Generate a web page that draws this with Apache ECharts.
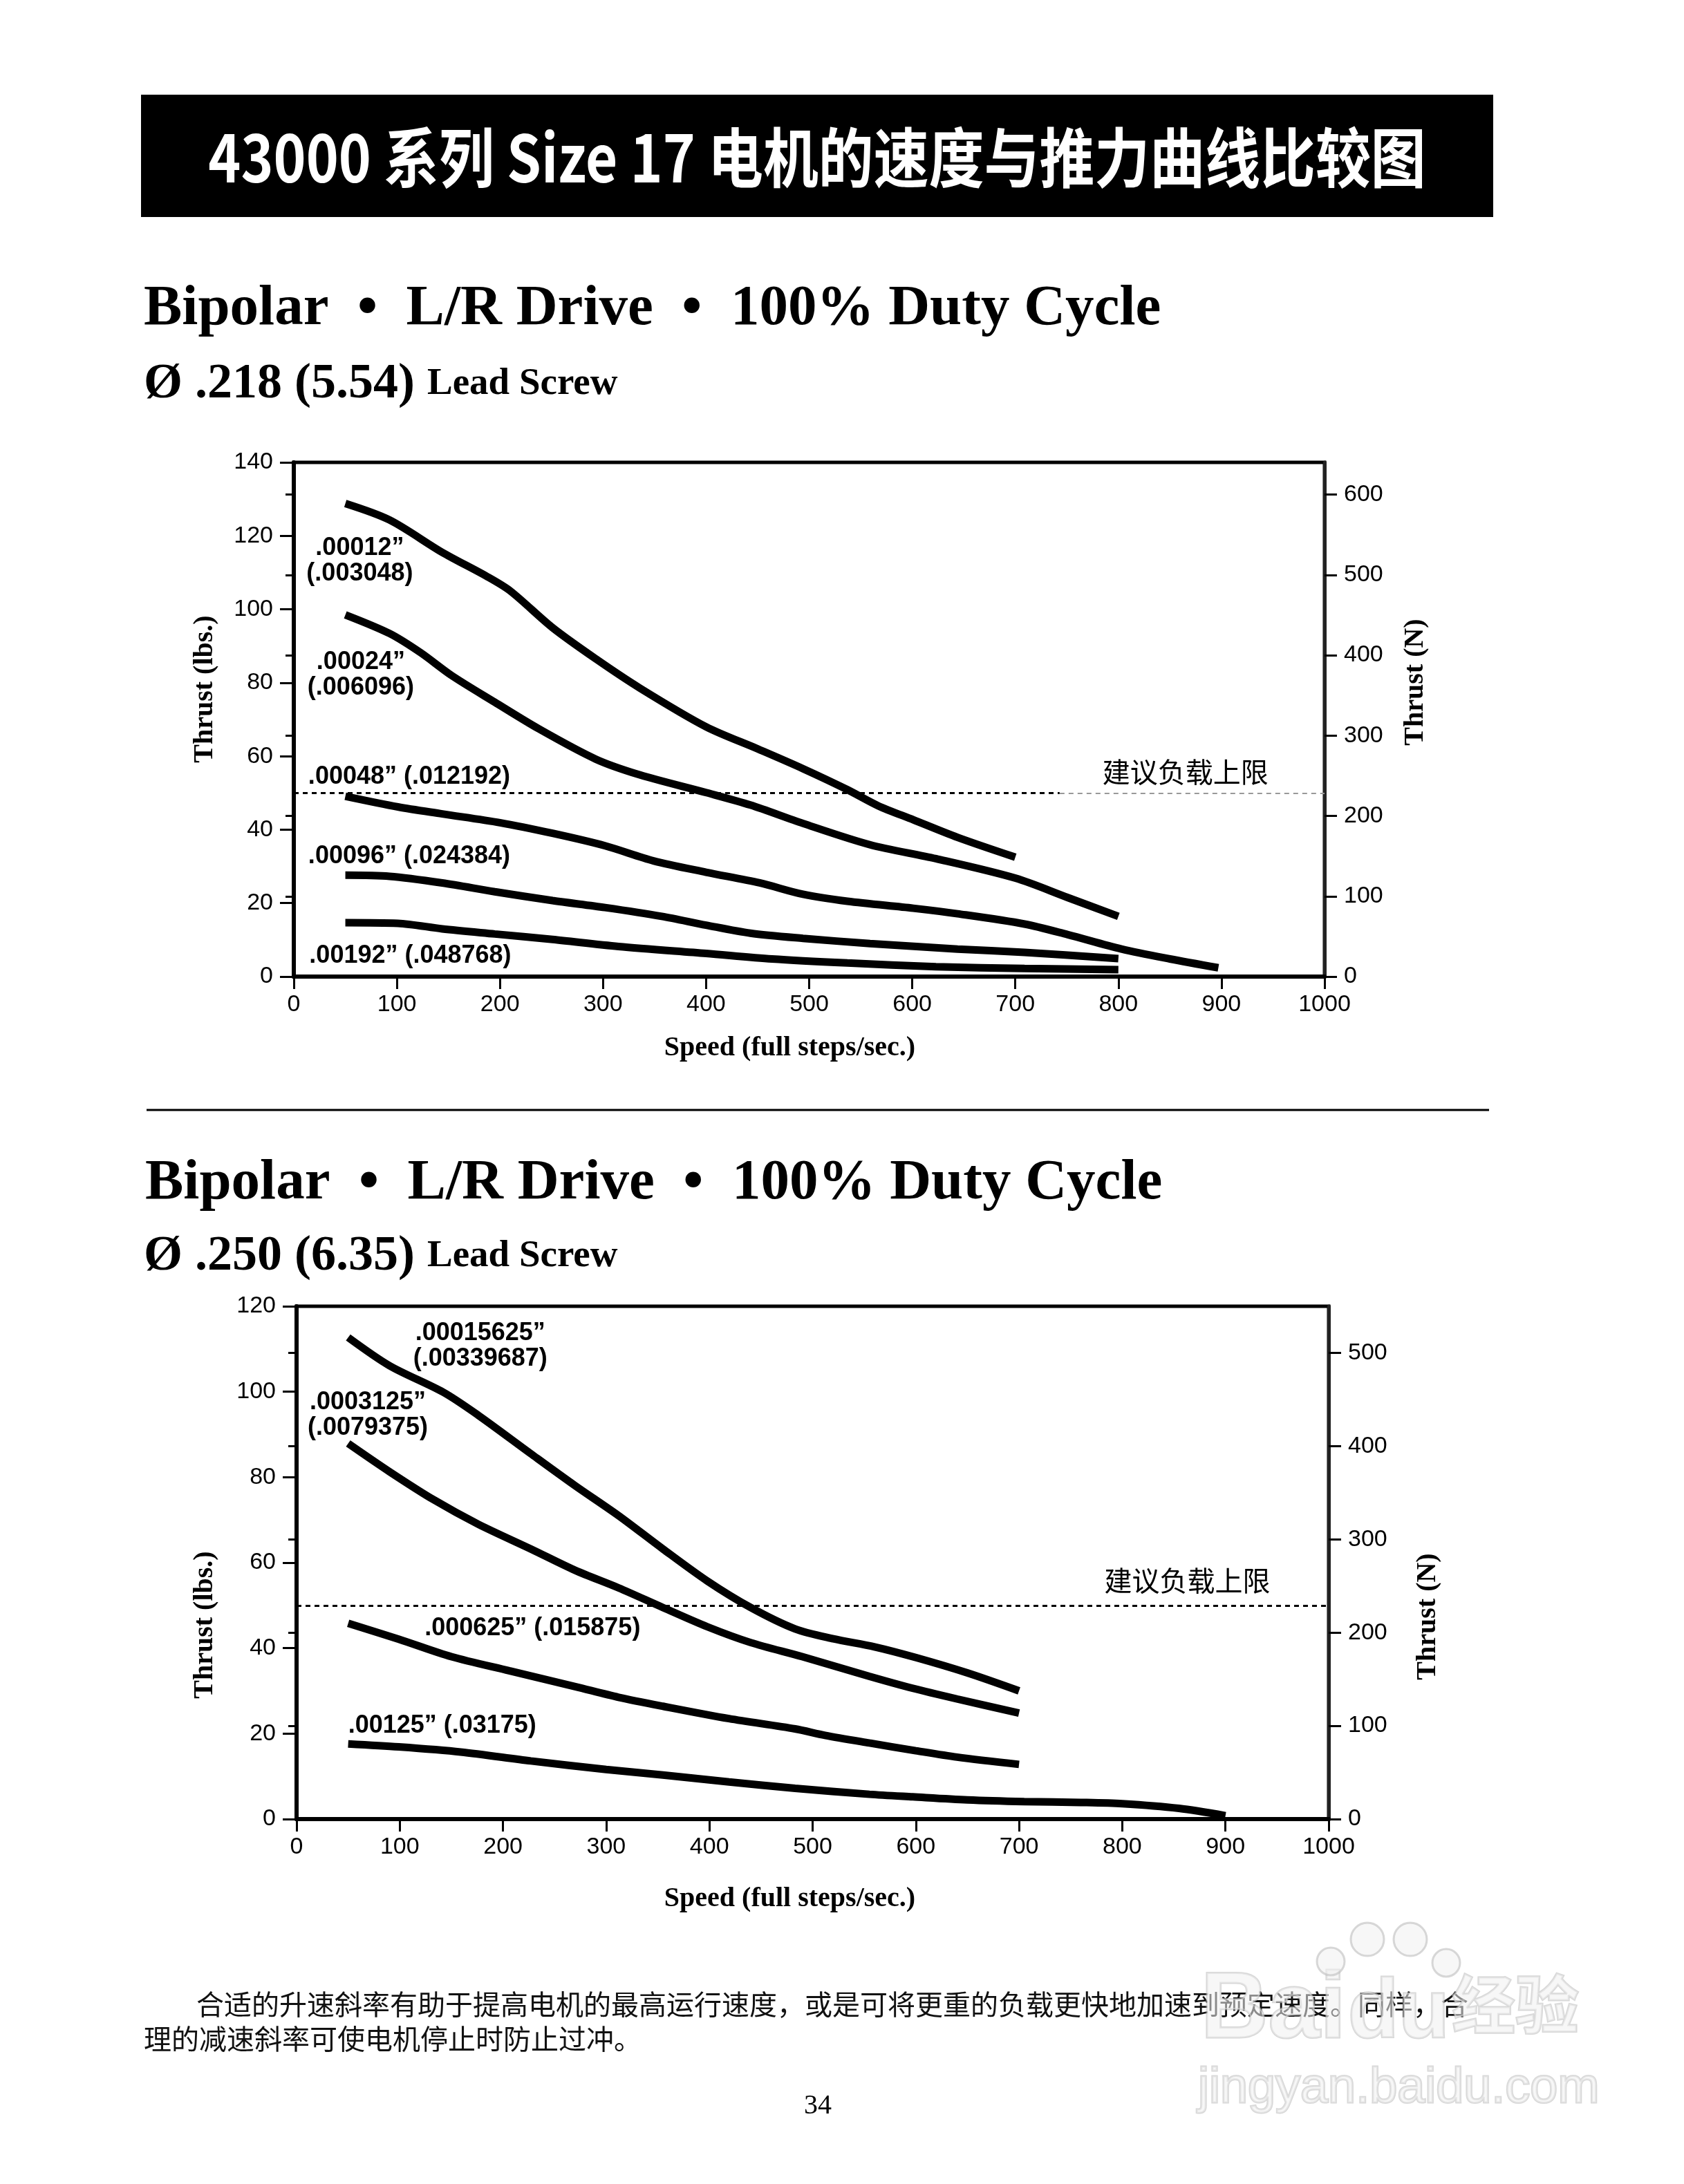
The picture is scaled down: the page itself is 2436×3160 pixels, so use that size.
<!DOCTYPE html>
<html><head><meta charset="utf-8">
<script src="https://cdn.jsdelivr.net/npm/echarts@6/dist/echarts.min.js"></script>
<style>html,body{margin:0;padding:0;background:#fff}#c{width:2436px;height:3160px}</style>
</head><body><div id="c"></div>
<script>
// ---------- Data (speed in full steps/sec, thrust in lbs) ----------
// Chart 1: Ø .218 (5.54) lead screw
const c1_00012 = [[50,128.8],[93,124.3],[144,115.5],[187,109],[210,105],[251,95],[293,86.5],[336,78.5],[400,68],[450,62],[494,56.6],[537,50.9],[567,46.5],[601,42.7],[644,37.9],[700,32.5]];
const c1_00024 = [[50,98.5],[93,93.4],[123,88.2],[153,82],[195,74.7],[238,67.4],[293,59.2],[336,54.9],[400,50.1],[443,46.7],[494,41.7],[559,35.9],[623,32.1],[700,26.8],[751,21.5],[800,16.4]];
const c1_00048 = [[50,49.1],[101,46.2],[144,44.3],[200,41.9],[251,39],[302,35.6],[349,31.5],[400,28.4],[452,25.5],[494,22.4],[537,20.5],[601,18.6],[644,17.1],[709,14.3],[751,11.4],[803,7.5],[850,4.8],[897,2.4]];
const c1_00096 = [[50,27.6],[93,27.3],[144,25.5],[195,23.1],[251,20.7],[302,18.8],[357,16.4],[400,14],[443,11.8],[494,10.4],[559,9],[644,7.5],[709,6.6],[800,4.9]];
const c1_00192 = [[50,14.7],[101,14.5],[144,13],[195,11.6],[251,10.1],[315,8.2],[400,6.3],[464,4.8],[537,3.7],[623,2.7],[709,2.2],[800,1.9]];
// Chart 2: Ø .250 (6.35) lead screw
const c2_00015625 = [[50,112.7],[90,106.1],[142,99.9],[176,94.5],[227,85.5],[270,78],[312,71],[355,63.2],[398,55.7],[440,49.5],[483,44.5],[520,42.2],[560,40.3],[600,37.8],[650,34.2],[700,30]];
const c2_0003125 = [[50,87.9],[90,81.3],[133,74.7],[176,69],[227,63.2],[270,58.2],[312,54.1],[355,49.5],[398,45],[440,41.3],[490,38],[555,33.4],[597,30.6],[640,28.1],[700,24.8]];
const c2_000625 = [[50,45.8],[99,42.1],[150,38],[206,34.7],[270,31],[312,28.5],[355,26.4],[419,23.5],[483,21.1],[512,19.6],[555,17.8],[600,16],[640,14.5],[700,12.8]];
const c2_00125 = [[50,17.6],[99,16.9],[159,15.7],[227,13.6],[300,11.6],[355,10.3],[419,8.7],[483,7.2],[555,5.8],[597,5.2],[650,4.5],[705,4.1],[760,3.9],[800,3.6],[855,2.5],[900,0.8]];
// Recommended load limit (lbs)
const loadLimit = 50;
// Axis ranges / ticks
const speedMax = 1000, speedStep = 100;
const c1_lbsMax = 140, c1_NMax = 640;
const c2_lbsMax = 120, c2_NMax = 550;
const lbsStep = 20, NStep = 100;
// Texts
const pageTitle = '43000 系列 Size 17 电机的速度与推力曲线比较图';
const header = 'Bipolar  •  L/R Drive  •  100% Duty Cycle';
const limitText = '建议负载上限';
const footer1 = '合适的升速斜率有助于提高电机的最高运行速度，或是可将更重的负载更快地加速到预定速度。同样，合';
const footer2 = '理的减速斜率可使电机停止时防止过冲。';

const SANS = '"Liberation Sans", Arial, sans-serif';
const SERIF = '"Liberation Serif", "DejaVu Serif", serif';
const CJK = '"Noto Sans CJK SC", sans-serif';

function lbl(coord, text, align) {
  return {coord: coord, value: 0, label: {show: true, formatter: text, align: align || 'left', verticalAlign: 'middle',
    fontFamily: SANS, fontWeight: 'bold', fontSize: 36, lineHeight: 37, color: '#000'}};
}
function cjkLbl(coord) {
  return {coord: coord, value: 0, label: {show: true, formatter: limitText, align: 'center', verticalAlign: 'middle',
    fontFamily: CJK, fontWeight: 'normal', fontSize: 40, color: '#000'}};
}
function curve(data, xi, yi, marks, markLine) {
  const s = {type: 'line', xAxisIndex: xi, yAxisIndex: yi, data: data, showSymbol: false, smooth: 0.3,
    lineStyle: {color: '#000', width: 11, cap: 'butt'}, silent: true, animation: false, z: 3};
  if (marks) s.markPoint = {symbol: 'rect', symbolSize: 1, itemStyle: {color: 'rgba(0,0,0,0)'}, silent: true, data: marks};
  if (markLine) s.markLine = markLine;
  return s;
}
const plain = v => String(v);
function xAx(grid, nameGap, namePad) {
  return [{
    gridIndex: grid, type: 'value', min: 0, max: speedMax, interval: speedStep,
    axisLine: {onZero: false, lineStyle: {color: '#000', width: 6}},
    axisTick: {length: 18, lineStyle: {color: '#000', width: 3}},
    axisLabel: {fontFamily: SANS, fontSize: 34, color: '#000', margin: 24, formatter: plain},
    splitLine: {show: false},
    name: 'Speed (full steps/sec.)', nameLocation: 'middle', nameGap: nameGap,
    nameTextStyle: {fontFamily: SERIF, fontWeight: 'bold', fontSize: 40, color: '#000', padding: namePad}
  }, {
    gridIndex: grid, type: 'value', min: 0, max: speedMax, interval: speedStep,
    axisLine: {show: false}, axisTick: {inside: true, length: 16, lineStyle: {color: '#000', width: 3}},
    axisLabel: {show: false}, splitLine: {show: false}
  }];
}
function yAx(grid, lbsMax, NMax, gapL, padL, gapR, padR) {
  return [{
    gridIndex: grid, type: 'value', position: 'left', min: 0, max: lbsMax, interval: lbsStep,
    axisLine: {onZero: false, lineStyle: {color: '#000', width: 6}},
    axisTick: {length: 20, lineStyle: {color: '#000', width: 3}},
    axisLabel: {fontFamily: SANS, fontSize: 34, color: '#000', margin: 30, formatter: plain},
    splitLine: {show: false},
    name: 'Thrust (lbs.)', nameLocation: 'middle', nameRotate: 90, nameGap: gapL,
    nameTextStyle: {fontFamily: SERIF, fontWeight: 'bold', fontSize: 40, color: '#000', padding: padL}
  }, {
    gridIndex: grid, type: 'value', position: 'right', min: 0, max: NMax, interval: NStep,
    axisLine: {onZero: false, lineStyle: {color: '#222', width: 5}},
    axisTick: {length: 18, lineStyle: {color: '#000', width: 3}},
    axisLabel: {fontFamily: SANS, fontSize: 34, color: '#000', margin: 28, showMaxLabel: false, formatter: plain},
    splitLine: {show: false},
    name: 'Thrust (N)', nameLocation: 'middle', nameRotate: 90, nameGap: gapR,
    nameTextStyle: {fontFamily: SERIF, fontWeight: 'bold', fontSize: 40, color: '#000', padding: padR}
  }, {
    gridIndex: grid, type: 'value', position: 'right', min: 0, max: NMax, interval: NStep,
    axisLine: {show: false}, axisTick: {inside: true, length: 12, lineStyle: {color: '#000', width: 3}},
    axisLabel: {show: false}, splitLine: {show: false}
  }];
}
const dotted = {type: [7, 6], width: 3};
const ml1 = {symbol: 'none', silent: true, label: {show: false}, data: [
  [{coord: [0, loadLimit], lineStyle: Object.assign({color: '#000'}, dotted)}, {coord: [743, loadLimit]}],
  [{coord: [743, loadLimit], lineStyle: {color: '#999', type: [7, 6], width: 2}}, {coord: [speedMax, loadLimit]}]
]};
const ml2 = {symbol: 'none', silent: true, label: {show: false}, data: [
  [{coord: [0, loadLimit], lineStyle: Object.assign({color: '#000'}, dotted)}, {coord: [speedMax, loadLimit]}]
]};

const chart = echarts.init(document.getElementById('c'), null, {renderer: 'canvas'});
const headerStyle = {fontFamily: SERIF, fontWeight: 'bold', fontSize: 83, fill: '#000', verticalAlign: 'middle'};
function sub(t) {
  return {text: '{a|' + t + ' }{b|Lead Screw}', fill: '#000', verticalAlign: 'middle',
    rich: {a: {fontFamily: SERIF, fontWeight: 'bold', fontSize: 72}, b: {fontFamily: SERIF, fontWeight: 'bold', fontSize: 55}}};
}
const wm = {fill: 'rgba(240,240,240,0.55)', stroke: 'rgba(190,190,190,0.6)', lineWidth: 3, verticalAlign: 'middle'};
chart.setOption({
  animation: false,
  backgroundColor: '#fff',
  grid: [
    {left: 425, top: 669, width: 1491, height: 744, show: true, borderColor: '#000', borderWidth: 5},
    {left: 429, top: 1890, width: 1493, height: 742, show: true, borderColor: '#000', borderWidth: 5}
  ],
  xAxis: [].concat(xAx(0, 84, [0, 56, 0, 0]), xAx(1, 96, [0, 66, 0, 0])),
  yAxis: [].concat(yAx(0, c1_lbsMax, c1_NMax, 108, [0, 0, 0, 88], 112, [0, 0, 0, 108]),
                   yAx(1, c2_lbsMax, c2_NMax, 112, [0, 180, 0, 0], 124, [0, 156, 0, 0])),
  series: [
    curve(c1_00012, 0, 0, [lbl([64, 113.2], '.00012”\n(.003048)', 'center')], ml1),
    curve(c1_00024, 0, 0, [lbl([65, 82.1], '.00024”\n(.006096)', 'center'), cjkLbl([865, 55.7])]),
    curve(c1_00048, 0, 0, [lbl([14, 54.3], '.00048” (.012192)')]),
    curve(c1_00096, 0, 0, [lbl([14, 32.7], '.00096” (.024384)')]),
    curve(c1_00192, 0, 0, [lbl([15, 5.6], '.00192” (.048768)')]),
    curve(c2_00015625, 2, 3, [lbl([178, 110.7], '.00015625”\n(.00339687)', 'center')], ml2),
    curve(c2_0003125, 2, 3, [lbl([69, 94.5], '.0003125”\n(.0079375)', 'center'), cjkLbl([863, 55.9])]),
    curve(c2_000625, 2, 3, [lbl([124, 44.6], '.000625” (.015875)')]),
    curve(c2_00125, 2, 3, [lbl([50, 21.9], '.00125” (.03175)')])
  ],
  graphic: [
    {type: 'rect', shape: {x: 204, y: 137, width: 1956, height: 177}, style: {fill: '#000'}, z: 1},
    {type: 'text', x: 1182, y: 228, scaleX: 0.85, z: 2, style: {text: pageTitle, fill: '#fff', fontFamily: CJK, fontWeight: 'bold', fontSize: 94, align: 'center', verticalAlign: 'middle'}},
    {type: 'text', x: 208, y: 448, style: Object.assign({text: header}, headerStyle)},
    {type: 'text', x: 208, y: 556, style: sub('Ø .218 (5.54)')},
    {type: 'line', shape: {x1: 212, y1: 1606, x2: 2154, y2: 1606}, style: {stroke: '#000', lineWidth: 3}},
    {type: 'text', x: 210, y: 1713, style: Object.assign({text: header}, headerStyle)},
    {type: 'text', x: 208, y: 1818, style: sub('Ø .250 (6.35)')},
    // footer
    {type: 'text', x: 284, y: 2900, z: 2, style: {text: footer1, fontFamily: CJK, fontSize: 40, fill: '#111', verticalAlign: 'middle'}},
    {type: 'text', x: 208, y: 2950, z: 2, style: {text: footer2, fontFamily: CJK, fontSize: 40, fill: '#111', verticalAlign: 'middle'}},
    {type: 'text', x: 1183, y: 3047, z: 2, style: {text: '34', fontFamily: SERIF, fontSize: 40, fill: '#000', align: 'center', verticalAlign: 'middle'}},
    // watermark (drawn over the text, translucent)
    {type: 'text', x: 1737, y: 2911, z: 5, style: Object.assign({text: 'Bai', fontFamily: SANS, fontWeight: 'bold', fontSize: 135}, wm)},
    {type: 'circle', shape: {cx: 1925, cy: 2838, r: 20}, style: {fill: wm.fill, stroke: wm.stroke, lineWidth: 3}, z: 5},
    {type: 'circle', shape: {cx: 1978, cy: 2806, r: 24}, style: {fill: wm.fill, stroke: wm.stroke, lineWidth: 3}, z: 5},
    {type: 'circle', shape: {cx: 2040, cy: 2806, r: 24}, style: {fill: wm.fill, stroke: wm.stroke, lineWidth: 3}, z: 5},
    {type: 'circle', shape: {cx: 2092, cy: 2840, r: 20}, style: {fill: wm.fill, stroke: wm.stroke, lineWidth: 3}, z: 5},
    {type: 'text', x: 1950, y: 2915, z: 5, style: Object.assign({text: 'du', fontFamily: SANS, fontWeight: 'bold', fontSize: 120}, wm)},
    {type: 'text', x: 2100, y: 2900, z: 5, style: Object.assign({text: '经验', fontFamily: CJK, fontWeight: 'bold', fontSize: 92}, wm)},
    {type: 'text', x: 1733, y: 3022, z: 5, style: Object.assign({text: 'jingyan.baidu.com', fontFamily: SANS, fontSize: 72}, wm)}
  ]
});
</script></body></html>
